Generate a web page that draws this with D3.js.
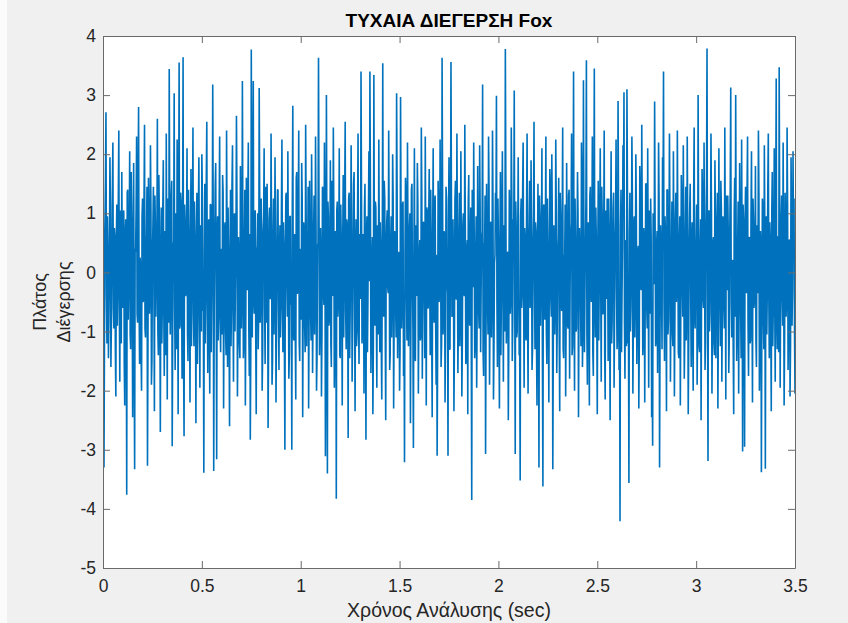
<!DOCTYPE html>
<html>
<head>
<meta charset="utf-8">
<script src="https://cdn.jsdelivr.net/npm/d3@7"></script>
<style>
  body { margin: 0; background: #f0f0f0; }
  svg text { font-family: "Liberation Sans", Arial, sans-serif; }
</style>
</head>
<body>
<div id="fox_figure"></div>
<script>
// sample step of the excitation (sec)
const dt = 0.005

// amplitude at t = i*dt (peaks placed where they show)
const amplitude = [
 1.30,-3.30,0.85,2.71,-1.20,0.40,-0.75,1.95,-1.60,0.22,2.20,-0.95,0.60,-2.10,1.15,-0.30,2.40,-1.85,0.05,1.70,
 -0.60,1.05,-2.25,0.90,-3.76,1.40,-0.15,2.05,-1.30,0.70,-2.45,1.85,-3.33,0.35,2.30,-0.85,2.80,-1.55,0.10,-2.00,
 1.25,-0.45,2.50,-1.10,0.65,-3.27,1.60,-0.70,2.15,-1.90,0.30,1.45,-2.35,0.80,-0.20,2.60,-1.40,0.95,-2.70,1.10,
 -0.55,1.90,-1.75,0.45,2.35,-2.15,0.75,3.44,-1.05,1.30,-2.94,0.50,3.03,-1.65,0.15,2.25,-2.40,3.55,-0.90,1.20,
 -1.80,3.64,-2.77,0.85,-0.35,2.10,-1.50,0.60,-2.20,1.75,-0.10,2.45,-1.25,0.40,-2.55,1.35,-0.80,1.95,-1.95,0.70,
 2.00,-0.65,-3.39,1.50,-0.25,2.55,-1.70,0.90,-2.05,1.15,-0.40,3.18,-3.36,0.55,1.85,-3.16,0.95,-0.60,2.30,-1.35,
 0.20,1.65,-2.30,0.75,-1.00,2.40,-1.60,0.35,-2.60,1.40,-0.50,2.15,-1.85,1.00,-0.15,2.65,-2.10,0.60,-1.20,1.80,
 -0.95,3.24,-1.45,0.50,-2.25,1.60,-0.30,2.20,-1.75,-2.83,3.77,-1.10,3.24,-0.70,1.05,-2.40,0.45,-1.30,3.12,-0.85,
 1.25,-2.00,0.70,2.10,-1.55,0.25,1.50,-2.63,0.90,-0.45,2.35,-1.90,0.55,-1.05,1.95,-2.20,0.15,1.40,-1.65,0.80,
 -0.60,2.25,-1.35,0.40,-3.00,1.30,-0.20,2.05,-1.80,0.95,-0.55,-3.00,2.82,-1.15,0.65,-2.15,1.70,-0.35,2.40,-1.50,
 0.30,1.85,-2.45,0.85,-0.90,2.50,-1.25,0.10,-2.30,1.55,-0.65,2.00,-1.70,0.60,-1.05,2.30,-2.00,0.45,3.63,-1.40,
 0.75,-2.10,1.45,-0.30,2.20,-3.11,3.00,-3.40,0.95,-0.80,1.90,-1.60,0.35,2.45,-1.95,0.70,-3.83,1.20,-0.50,2.10,
 -1.45,0.55,-2.25,1.65,-0.15,2.55,-1.30,0.80,-2.80,1.35,-0.70,2.15,-1.85,0.25,1.70,-2.35,0.90,-1.00,2.35,-1.55,
 0.40,3.40,-1.20,0.65,-2.05,1.50,-2.83,0.95,-0.45,2.05,3.40,-1.70,0.20,-2.40,3.34,-0.90,1.10,-1.95,0.60,2.25,
 -1.35,0.45,-2.15,3.54,-0.75,1.25,-2.50,0.85,-0.25,2.40,-1.65,0.50,-1.10,2.00,-2.30,0.70,-0.55,3.03,-1.45,0.35,
 -2.00,2.97,-0.95,1.15,-1.75,-3.21,1.60,-0.40,2.20,-1.25,0.75,-2.55,1.40,-0.10,-2.97,2.10,-1.50,0.60,1.85,-2.05,
 0.30,-1.15,2.45,-1.80,0.85,-0.35,2.30,-2.25,1.05,-0.60,1.75,-1.40,0.45,-2.45,2.10,-0.85,1.30,-1.90,-3.10,1.55,
 -0.50,2.25,-1.60,3.63,-1.05,0.70,-2.20,1.45,-0.20,-3.10,1.95,-1.30,3.56,-0.75,0.90,-2.35,1.20,-0.45,2.35,-1.70,
 0.55,-1.25,2.05,-2.10,0.80,-0.30,2.50,-1.55,0.40,-2.40,1.65,-0.90,1.10,-3.85,0.95,2.20,-1.45,0.25,-1.95,1.80,
 -0.65,2.15,-1.35,0.60,3.18,-1.75,0.35,-3.07,1.50,-0.55,2.30,-1.90,0.85,-1.10,2.40,-2.15,0.15,1.35,2.99,-1.60,
 0.50,-2.30,1.70,-0.40,2.05,-1.85,0.65,3.78,-1.20,0.30,-2.50,1.40,-0.70,2.45,-1.50,0.90,3.08,-3.07,0.75,-1.00,
 1.95,-1.40,-3.52,1.25,-0.35,2.20,-1.95,0.55,-1.15,2.35,-2.05,0.85,-0.60,1.90,-1.65,0.40,2.55,-1.30,0.70,-2.25,
 1.50,-3.30,0.95,-0.25,2.10,-3.62,1.15,-0.80,2.30,-1.55,0.45,-2.20,1.75,-0.45,2.00,-3.33,0.80,-1.05,2.25,-1.70,
 0.35,1.60,-2.35,0.90,-0.65,2.45,-1.45,0.20,-2.10,1.85,-0.90,1.30,-1.80,0.65,2.35,-1.25,3.40,-2.00,0.50,-0.95,
 1.70,-2.45,0.75,-0.30,2.20,-1.60,3.25,-1.35,0.40,3.59,-1.90,0.85,-2.25,1.45,-0.50,2.30,-1.75,3.45,-1.10,0.60,
 -2.40,1.55,-0.15,2.10,-1.85,0.95,-0.70,2.40,-2.15,0.30,1.25,-1.50,0.70,-2.50,2.05,-0.85,1.10,-1.95,0.45,2.25,
 -1.30,2.90,-1.65,-4.21,1.40,-0.40,2.15,3.05,-1.80,0.55,3.10,-1.20,-3.56,1.35,-0.60,2.30,-2.05,0.85,-1.10,2.00,
 -1.55,0.35,-2.30,1.80,-0.25,2.50,-1.40,0.75,-2.20,1.50,-0.55,2.10,-1.95,0.60,1.25,-2.45,-2.93,0.95,2.89,-1.25,
 0.45,-1.70,2.20,-3.30,0.80,-0.35,1.95,3.40,-1.50,0.65,-2.35,1.40,-0.80,2.35,-1.85,0.25,-1.05,2.05,-2.10,0.90,
 -0.50,2.40,-1.35,0.55,-2.25,1.65,-0.20,2.15,-1.80,0.70,-1.15,2.30,-2.40,0.35,1.50,-1.60,0.85,-2.00,2.45,-0.95,
 0.60,-1.90,3.00,-1.25,0.40,-2.50,1.75,-0.45,2.20,-1.65,0.85,3.79,-3.19,1.05,-0.70,2.35,-2.05,0.50,-1.20,1.90,
 -1.45,0.75,-2.30,2.10,-0.30,1.55,-1.85,0.95,-0.55,2.45,-2.15,0.30,1.30,-1.70,0.65,3.13,-1.10,0.20,-2.40,1.60,
 3.00,-1.50,0.45,-2.05,1.85,-0.60,2.25,-3.03,0.80,-2.95,1.45,-0.35,2.30,-1.75,0.60,-1.15,2.05,-2.20,0.90,-0.45,
 1.80,-1.60,0.35,2.40,-2.00,0.70,-3.38,1.25,-0.80,2.15,-3.32,0.95,-0.25,2.35,-1.45,0.50,-2.35,1.70,-0.65,2.10,
 -1.85,3.28,-1.30,0.60,3.47,-1.95,0.85,-0.40,2.20,-2.25,1.35,-0.75,2.45,-1.65,0.55,-2.10,1.95,-0.90,2.05,1.25,
 -2.05
]

// amplitude at t = (i + 0.5)*dt, the dense core of the band
const amplitude_mid = [
 0.45,-1.10,1.60,-0.35,0.95,-1.45,0.20,1.15,-0.85,1.40,-0.60,0.75,-1.30,0.55,-0.90,1.25,-0.40,1.05,-1.20,0.30,
 0.90,-1.55,0.65,-0.25,1.35,-0.80,0.50,-1.05,1.70,-0.15,0.85,-1.25,0.40,1.10,-0.70,1.50,-0.45,0.25,-1.35,0.95,
 -0.50,1.20,-0.95,0.35,1.45,-1.15,0.60,-0.30,1.05,-1.50,0.80,-0.20,1.30,-0.75,0.45,-1.00,1.65,-0.55,0.15,-1.20,
 1.10,-0.65,0.70,-1.40,0.30,1.25,-0.85,0.95,-0.10,1.55,-1.10,0.50,-0.60,1.00,-1.30,0.40,0.85,-0.95,1.35,-0.25,
 0.60,-1.45,1.15,-0.40,0.75,-1.05,1.40,-0.20,0.55,-1.25,0.90,-0.70,1.20,-0.35,0.65,-1.55,1.05,-0.15,0.80,-1.00,
 1.30,-0.55,0.35,-1.20,1.60,-0.45,0.70,-0.90,1.15,-1.35,0.25,0.95,-0.65,1.45,-0.30,0.55,-1.15,1.00,-0.80,0.40,
 -1.05,1.35,-0.25,0.85,-1.40,0.60,1.10,-0.75,0.20,-1.25,1.50,-0.50,0.90,-1.00,0.45,1.25,-0.85,0.30,-1.45,1.05,
 -0.35,0.75,-1.15,1.40,-0.60,0.15,1.20,-0.95,0.65,-1.30,0.40,1.55,-0.45,0.80,-1.10,0.35,1.00,-0.70,1.30,-0.20,
 0.50,-1.35,0.95,-0.55,1.45,-0.85,0.25,-1.20,1.10,-0.40,0.70,-1.50,1.25,-0.15,0.60,-0.95,1.40,-0.65,0.30,-1.10,
 1.05,-0.30,0.85,-1.25,0.45,1.35,-0.75,0.20,-1.40,0.95,-0.50,1.15,-0.90,0.55,-1.05,1.60,-0.35,0.75,-1.20,0.40,
 -0.80,1.25,-0.45,0.65,-1.35,1.00,-0.20,1.45,-0.70,0.35,-1.15,0.90,-0.60,1.30,-0.25,0.80,-1.45,0.50,1.10,-0.85,
 0.25,-1.00,1.40,-0.55,0.70,-1.30,0.45,1.20,-0.90,0.15,-1.20,1.55,-0.40,0.85,-1.05,0.60,1.05,-0.75,0.30,-1.40,
 1.15,-0.35,0.55,-1.10,1.35,-0.65,0.90,-0.25,1.25,-1.45,0.40,0.75,-0.95,1.50,-0.50,0.20,-1.25,1.00,-0.80,0.65,
 -0.45,1.30,-1.00,0.35,1.10,-0.70,0.55,-1.35,0.95,-0.15,1.45,-0.85,0.60,-1.20,0.25,1.20,-0.55,0.80,-1.05,0.45,
 0.85,-1.25,0.30,-0.60,1.55,-0.90,0.45,1.05,-0.35,0.70,-1.40,0.95,-0.20,1.25,-0.75,0.50,-1.10,1.40,-0.45,0.15,
 -1.30,0.90,-0.50,1.20,-0.80,0.35,1.35,-1.15,0.60,-0.30,1.00,-0.65,1.50,-0.95,0.25,-1.25,0.80,-0.40,1.15,-0.70,
 0.55,-1.05,1.30,-0.25,0.85,-1.45,0.40,1.10,-0.60,0.95,-0.15,1.40,-1.00,0.65,-0.55,1.20,-0.85,0.30,-1.35,1.05,
 -0.20,0.75,-1.20,1.45,-0.50,0.60,-0.95,1.25,-0.35,0.90,-1.30,0.45,1.05,-0.70,0.20,-1.10,1.55,-0.45,0.70,-0.90,
 1.35,-0.60,0.25,-1.15,1.00,-0.40,0.80,-1.45,0.55,1.20,-0.75,0.35,-1.00,1.40,-0.25,0.65,-1.20,0.95,-0.55,0.15,
 -0.95,1.10,-0.30,0.70,-1.35,0.50,1.30,-0.80,0.40,-1.05,1.45,-0.65,0.85,-0.20,1.15,-1.25,0.30,0.95,-0.50,1.25,
 -0.75,0.45,-1.40,1.05,-0.15,0.80,-1.00,1.50,-0.55,0.35,-1.20,0.90,-0.40,1.35,-0.85,0.60,-0.25,1.20,-1.10,0.50,
 0.20,-1.25,0.95,-0.60,1.40,-0.35,0.75,-1.05,1.15,-0.80,0.40,1.55,-0.45,0.65,-1.30,1.00,-0.20,0.85,-1.15,0.35,
 -0.50,1.30,-0.90,0.55,-1.45,1.10,-0.30,0.70,-1.00,1.25,-0.65,0.25,1.45,-0.75,0.90,-1.20,0.45,-0.55,1.05,-0.85,
 0.60,-1.10,1.35,-0.40,0.80,-1.30,0.30,1.15,-0.70,0.50,-0.95,1.40,-0.25,0.85,-1.40,0.65,-0.45,1.25,-1.00,0.40,
 1.00,-0.55,0.20,-1.25,1.50,-0.85,0.45,-0.35,1.20,-1.05,0.75,-0.60,1.30,-0.15,0.55,-1.35,0.95,-0.50,1.10,-0.80,
 0.35,-1.15,0.85,-0.25,1.45,-0.70,0.60,-1.40,1.05,-0.45,0.25,1.25,-0.90,0.70,-1.20,0.40,1.35,-0.65,0.90,-0.30,
 -1.05,1.20,-0.40,0.75,-1.35,0.50,1.15,-0.85,0.30,-1.25,1.40,-0.55,0.65,-1.00,0.20,1.30,-0.75,0.95,-0.35,1.10,
 -0.65,0.45,-1.20,1.35,-0.30,0.85,-1.10,0.55,-0.45,1.50,-0.95,0.25,1.05,-0.70,0.60,-1.45,1.00,-0.20,0.80,-1.15,
 0.70,-0.35,1.25,-0.90,0.40,-1.30,1.10,-0.50,0.95,-0.15,1.40,-1.05,0.30,0.85,-0.60,1.20,-1.25,0.45,-0.80,1.35,
 -0.25,0.65,-1.45,0.95,-0.55,1.15,-0.75,0.35,-1.10,1.45,-0.40,0.70,-1.20,1.05,-0.30,0.50,-0.95,1.30,-0.65,0.20,
 1.15,-0.85,0.55,-1.35,0.90,-0.20,1.25,-0.60,0.40,-1.15,1.50,-0.45,0.75,-1.00,0.30,1.05,-0.70,0.60,-1.40,0.95,
 -0.35,1.35,-0.80,0.25,-1.25,1.10,-0.55,0.85,-0.95,0.45,1.30,-0.30,0.65,-1.10,1.45,-0.50,0.20,-1.30,1.00,-0.75,
 0.50,-1.00,1.20,-0.40,0.75,-1.45,0.35,1.15,-0.65,0.90,-0.25,1.40,-0.85,0.55,-1.20,0.95,-0.45,1.25,-0.60,0.30,
 -1.15,0.80,-0.35,1.35,-0.90,0.45,-0.55,1.10,-1.30,0.65,0.20,-1.05,1.45,-0.40,0.85,-0.75,1.00,-1.25,0.35,-0.50,
 1.20,-0.70,0.60,-1.35,0.95,-0.25,1.30,-0.90,0.40,-1.10,0.75,-0.45,1.15,-0.85,0.55,-1.20,0.90,-0.30,0.50,-0.95
]

const x_ticks = [0, 0.5, 1, 1.5, 2, 2.5, 3, 3.5]
const y_ticks = [-5, -4, -3, -2, -1, 0, 1, 2, 3, 4]
const x_tick_labels = ["0", "0.5", "1", "1.5", "2", "2.5", "3", "3.5"]
const y_tick_labels = ["-5", "-4", "-3", "-2", "-1", "0", "1", "2", "3", "4"]

const title_text = "ΤΥΧΑΙΑ ΔΙΕΓΕΡΣΗ Fox"
const x_label = "Χρόνος Ανάλυσης (sec)"
const y_label = ["Πλάτος", "Διέγερσης"]

const width = 848
const height = 623
const plot_left = 103
const plot_right = 795
const plot_top = 36
const plot_bottom = 568
const tick_len = 7
const line_color = "#0072bd"
const line_stroke = 1.6
const axis_color = "#262626"
const frame_color = "#6a6a6a"

// time/amplitude pairs, both sample sets merged in time order
var samples = []
amplitude.forEach(function(v, i){
	samples.push([i * dt, v])
	if (i < amplitude_mid.length) samples.push([(i + 0.5) * dt, amplitude_mid[i]])
})

var fig_svg = d3.select("#fox_figure")
	.append("svg")
	.attr("width", width)
	.attr("height", height)

fig_svg.append("rect")
	.attr("width", width)
	.attr("height", height)
	.attr("fill", "#f0f0f0")
fig_svg.append("rect")
	.attr("width", 7)
	.attr("height", height)
	.attr("fill", "#fbfbfb")

var x_scale = d3.scaleLinear()
	.domain([0, 3.5])
	.range([plot_left, plot_right])
var y_scale = d3.scaleLinear()
	.domain([-5, 4])
	.range([plot_bottom, plot_top])

// axes background
fig_svg.append("rect")
	.attr("x", plot_left)
	.attr("y", plot_top)
	.attr("width", plot_right - plot_left)
	.attr("height", plot_bottom - plot_top)
	.attr("fill", "white")

fig_svg.append("clipPath")
	.attr("id", "plot_clip")
	.append("rect")
	.attr("x", plot_left)
	.attr("y", plot_top)
	.attr("width", plot_right - plot_left)
	.attr("height", plot_bottom - plot_top)

var signal_line = d3.line()
	.x(d => x_scale(d[0]))
	.y(d => y_scale(d[1]))

fig_svg.append("path")
	.datum(samples)
	.attr("d", signal_line)
	.attr("clip-path", "url(#plot_clip)")
	.attr("fill", "none")
	.attr("stroke", line_color)
	.attr("stroke-width", line_stroke)
	.attr("stroke-linejoin", "bevel")

// box axes, ticks pointing inward on all four sides
var bottom_axis = d3.axisBottom(x_scale).tickValues(x_ticks)
	.tickFormat((d, i) => x_tick_labels[i]).tickSizeInner(-tick_len).tickSizeOuter(0).tickPadding(12)
var top_axis = d3.axisTop(x_scale).tickValues(x_ticks)
	.tickFormat("").tickSizeInner(-tick_len).tickSizeOuter(0)
var left_axis = d3.axisLeft(y_scale).tickValues(y_ticks)
	.tickFormat((d, i) => y_tick_labels[i]).tickSizeInner(-tick_len).tickSizeOuter(0).tickPadding(7)
var right_axis = d3.axisRight(y_scale).tickValues(y_ticks)
	.tickFormat("").tickSizeInner(-tick_len).tickSizeOuter(0)

function style_axis(g){
	g.select(".domain").attr("stroke", frame_color).attr("stroke-width", 1)
	g.selectAll(".tick line").attr("stroke", frame_color).attr("stroke-width", 1)
	g.selectAll(".tick text")
		.attr("fill", axis_color)
		.style("font-size", "17.5px")
		.style("font-family", "Liberation Sans, Arial, sans-serif")
}

fig_svg.append("g").attr("transform", "translate(0," + plot_bottom + ")").call(bottom_axis).call(style_axis)
fig_svg.append("g").attr("transform", "translate(0," + plot_top + ")").call(top_axis).call(style_axis)
fig_svg.append("g").attr("transform", "translate(" + plot_left + ",0)").call(left_axis).call(style_axis)
fig_svg.append("g").attr("transform", "translate(" + plot_right + ",0)").call(right_axis).call(style_axis)

// title and labels
fig_svg.append("text")
	.attr("x", (plot_left + plot_right) / 2)
	.attr("y", 27)
	.attr("text-anchor", "middle")
	.attr("font-size", 19)
	.attr("font-weight", "bold")
	.attr("fill", "black")
	.text(title_text)

fig_svg.append("text")
	.attr("x", (plot_left + plot_right) / 2)
	.attr("y", 617)
	.attr("text-anchor", "middle")
	.attr("font-size", 19.5)
	.attr("fill", axis_color)
	.text(x_label)

var y_mid = (plot_top + plot_bottom) / 2
fig_svg.append("text")
	.attr("transform", "translate(46," + y_mid + ") rotate(-90)")
	.attr("text-anchor", "middle")
	.attr("font-size", 18)
	.attr("fill", axis_color)
	.text(y_label[0])
fig_svg.append("text")
	.attr("transform", "translate(70," + y_mid + ") rotate(-90)")
	.attr("text-anchor", "middle")
	.attr("font-size", 18)
	.attr("fill", axis_color)
	.text(y_label[1])
</script>
</body>
</html>
